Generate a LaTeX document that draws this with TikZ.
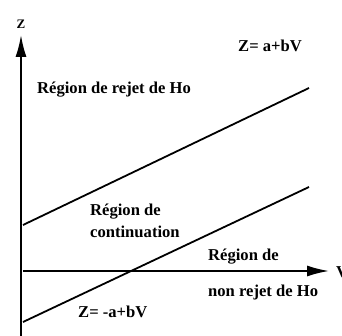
\documentclass[tikz,border=0pt]{standalone}
\usepackage{fontspec}
\setmainfont{Liberation Serif}
\usetikzlibrary{arrows.meta}
\tikzset{
  lbl/.style={font=\bfseries\fontsize{16.6}{18}\selectfont, inner sep=0pt, anchor=base west},
  axis/.style={line width=1.8pt, -{Latex[length=22pt,width=11pt]}},
  bound/.style={line width=1.8pt}
}
\begin{document}
\begin{tikzpicture}[x=1pt,y=-1pt]
\useasboundingbox (0,0) rectangle (342,336);
% axes
\coordinate (o) at (21,336);
\coordinate (ztip) at (21,35);
\coordinate (h0) at (23,271);
\coordinate (vtip) at (329,271);
\draw[axis] (o) -- (ztip);
\draw[axis] (h0) -- (vtip);
\node[font=\bfseries\fontsize{13}{15}\selectfont, inner sep=0pt, anchor=base] (zl) at (21,29) {Z};
\node[lbl] (vl) at (336,277) {V};
% boundary lines
\coordinate (u0) at (23,225);
\coordinate (u1) at (309,88);
\coordinate (l0) at (23,322);
\coordinate (l1) at (309,187);
\draw[bound] (u0) -- (u1);
\draw[bound] (l0) -- (l1);
% labels
\node[lbl] (eqa) at (238,52) {Z= a+bV};
\node[lbl] (rej) at (37,94) {Région de rejet de Ho};
\node[lbl] (cont1) at (90,216) {Région de};
\node[lbl] (cont2) at (90,238) {continuation};
\node[lbl] (nr1) at (208,261) {Région de};
\node[lbl] (nr2) at (208,296) {non rejet de Ho};
\node[lbl] (eqb) at (78,317) {Z= -a+bV};
\end{tikzpicture}
\end{document}
